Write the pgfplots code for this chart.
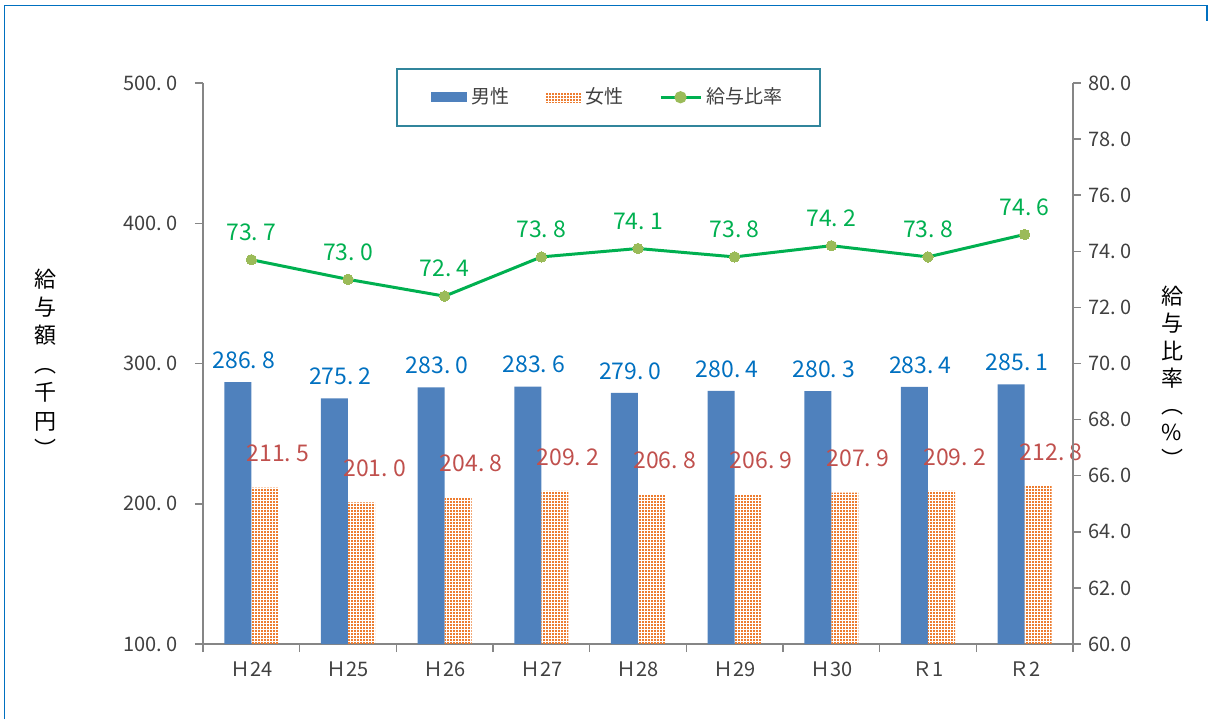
\documentclass[border=0pt]{standalone}
\usepackage{pgfplots}
\pgfplotsset{compat=1.18}
\usepackage{fontspec}
\setmainfont{Noto Sans CJK JP}
\usetikzlibrary{patterns}

\definecolor{maleblue}{RGB}{79,129,189}
\definecolor{femaleorange}{RGB}{237,125,49}
\definecolor{ratiogreen}{RGB}{0,176,80}
\definecolor{markgreen}{RGB}{155,187,89}
\definecolor{lblblue}{RGB}{0,112,192}
\definecolor{lblred}{RGB}{192,80,77}
\definecolor{axgray}{RGB}{134,134,134}
\definecolor{txtgray}{RGB}{64,64,64}
\definecolor{frameblue}{RGB}{0,112,192}
\definecolor{legteal}{RGB}{49,133,156}

% fine dot texture for the female bars
\pgfdeclarepatternformonly{finedots}{\pgfqpoint{-0.1pt}{-0.1pt}}{\pgfqpoint{1.6pt}{1.6pt}}{\pgfqpoint{1.5pt}{1.5pt}}{%
  \pgfpathrectangle{\pgfqpoint{0pt}{0pt}}{\pgfqpoint{0.9pt}{0.9pt}}\pgfusepath{fill}}

\pgfplotsset{
  common/.style={
    at={(101.5pt,37.5pt)}, anchor=south west,
    scale only axis, width=435pt, height=280.5pt,
    xmin=-0.5, xmax=8.5,
    axis line style={draw=axgray, line width=0.75pt, -},
    tick style={draw=axgray, line width=0.75pt},
    tick align=outside,
    major tick length=4pt,
    minor tick length=4pt,
    ticklabel style={font=\fontsize{10}{10}\selectfont, text=txtgray},
    /pgf/number format/fixed,
    /pgf/number format/fixed zerofill,
    /pgf/number format/precision=1,
    /pgf/number format/set decimal separator={.\hspace{0.22em}},
    /pgf/number format/assume math mode=true,
  },
}

\begin{document}
\begin{tikzpicture}
\useasboundingbox (0,0) rectangle (605.5pt,359.5pt);
% outer frame
\draw[frameblue, line width=0.85pt] (2.2pt,0pt) -- (2.2pt,356.8pt) -- (603.6pt,356.8pt) -- (603.6pt,349pt);

\begin{axis}[common,
  ymin=100, ymax=500, ytick={100,200,...,500},
  axis x line*=bottom, axis y line*=left,
  yticklabel style={xshift=-5pt},
  xticklabel style={yshift=-1.5pt},
  xtick={0,...,8},
  xticklabels={Ｈ24,Ｈ25,Ｈ26,Ｈ27,Ｈ28,Ｈ29,Ｈ30,Ｒ1,Ｒ2},
  minor xtick={-0.5,0.5,...,8.5},
  major x tick style={draw=none},
  ybar=0pt, bar width=0.28,
  legend columns=3,
  legend style={at={(0.222,1.027)}, anchor=north west, draw=legteal, line width=0.9pt,
    font=\fontsize{9.5}{9.5}\selectfont, text=txtgray, inner xsep=17pt, inner ysep=7.5pt,
    /tikz/every even column/.append style={column sep=16pt}},
]
\addplot[fill=maleblue, draw=none,
  legend image code/.code={\fill[maleblue] (0pt,-2.5pt) rectangle (18pt,2.5pt);},
  nodes near coords,
  nodes near coords style={font=\fontsize{11.5}{11.5}\selectfont, text=lblblue, anchor=south, inner sep=0pt, yshift=6.5pt, xshift=3pt}]
coordinates {(0,286.8) (1,275.2) (2,283.0) (3,283.6) (4,279.0) (5,280.4) (6,280.3) (7,283.4) (8,285.1)};
\addlegendentry{男性}
\addplot[pattern=finedots, pattern color=femaleorange, draw=none,
  legend image code/.code={\fill[pattern=finedots, pattern color=femaleorange] (0pt,-2.5pt) rectangle (18pt,2.5pt);},
  nodes near coords,
  nodes near coords style={font=\fontsize{11.5}{11.5}\selectfont, text=lblred, anchor=south, inner sep=0pt, yshift=12.5pt, xshift=6.5pt}]
coordinates {(0,211.5) (1,201.0) (2,204.8) (3,209.2) (4,206.8) (5,206.9) (6,207.9) (7,209.2) (8,212.8)};
\addlegendentry{女性}
\addlegendimage{legend image code/.code={\draw[ratiogreen, line width=1.5pt] (0pt,0pt) -- (20pt,0pt); \fill[markgreen] (10pt,0pt) circle (2.6pt);}}
\addlegendentry{給与比率}
\end{axis}

\begin{axis}[common,
  ymin=60, ymax=80, ytick={60,62,...,80},
  axis x line=none, axis y line*=right,
]
\addplot[ratiogreen, line width=1.5pt, mark=*, mark size=2.6pt,
  mark options={fill=markgreen, draw=markgreen, line width=0pt},
  nodes near coords,
  nodes near coords style={font=\fontsize{11.5}{11.5}\selectfont, text=ratiogreen, anchor=south, inner sep=0pt, yshift=9.5pt}]
coordinates {(0,73.7) (1,73.0) (2,72.4) (3,73.8) (4,74.1) (5,73.8) (6,74.2) (7,73.8) (8,74.6)};
\end{axis}

\node[font=\fontsize{11}{14.2}\selectfont, align=center, text=black] at (22.5pt,178pt) {給\\与\\額\\︵\\千\\円\\︶};
\node[font=\fontsize{11}{13.6}\selectfont, align=center, text=black] at (586pt,171pt) {給\\与\\比\\率\\︵\\\%\\︶};
\end{tikzpicture}
\end{document}
